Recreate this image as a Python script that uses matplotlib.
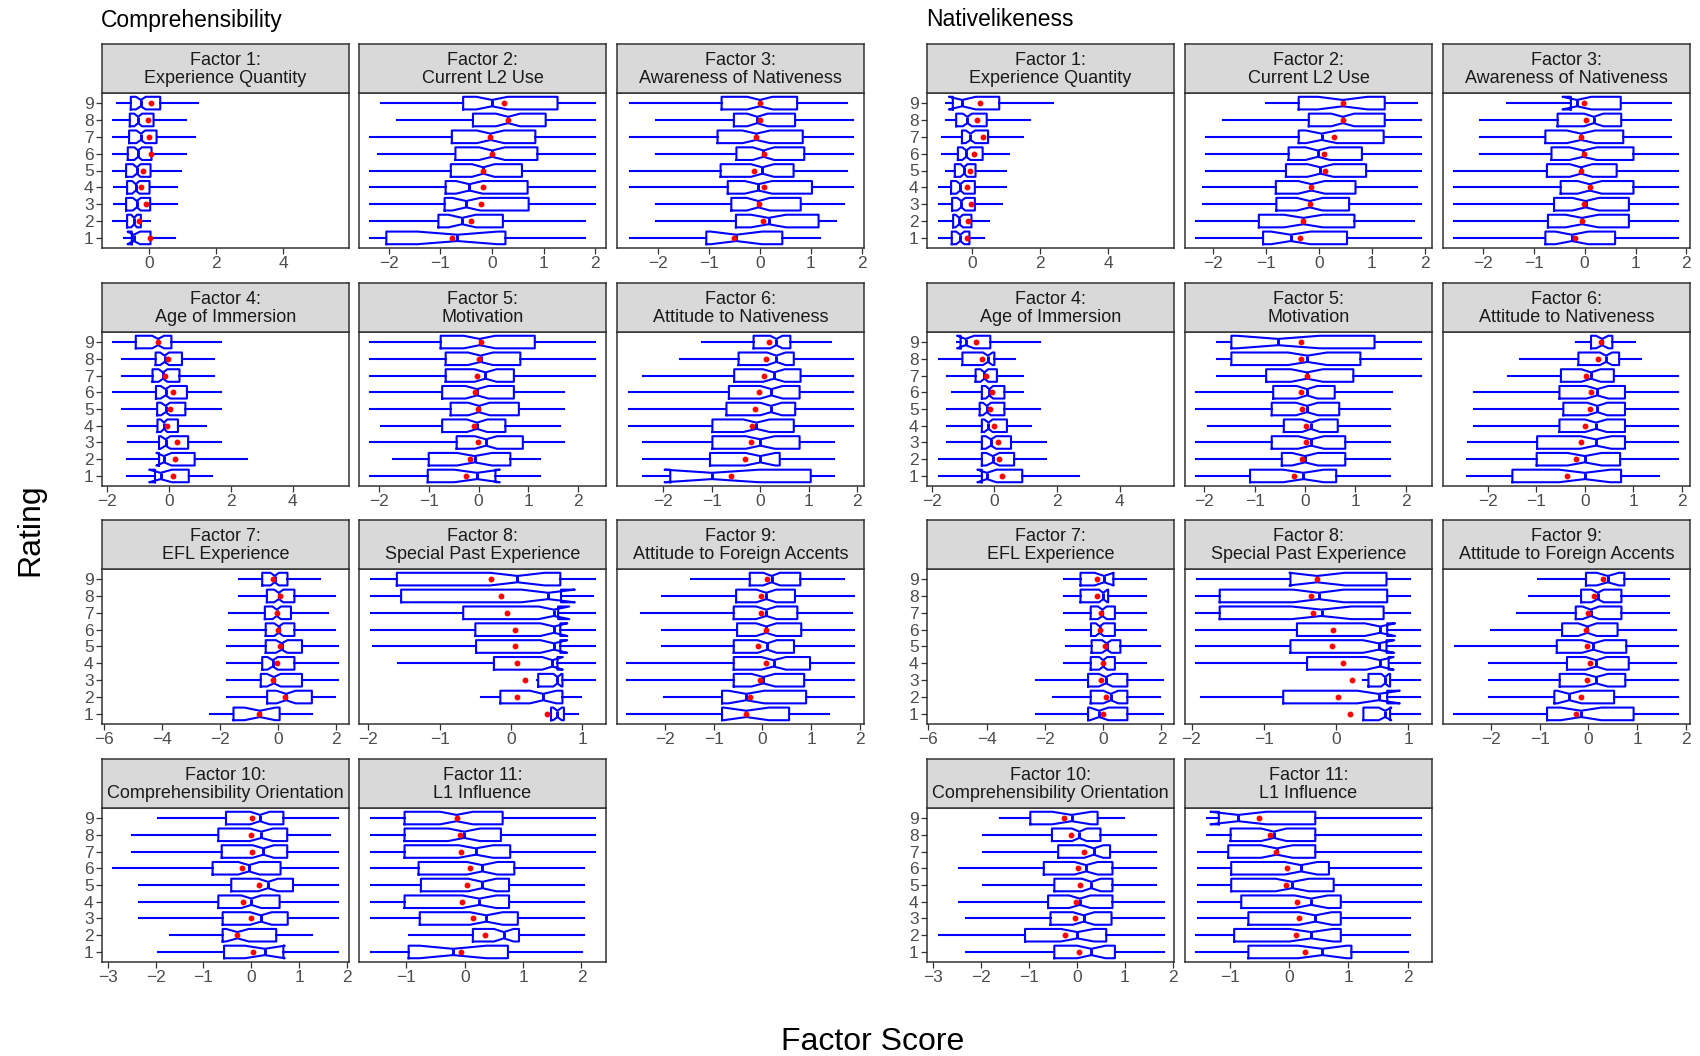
import numpy as np
import matplotlib.pyplot as plt
from matplotlib.ticker import MultipleLocator

plt.rcParams['font.family'] = ['Liberation Sans', 'DejaVu Sans']

ratings = list(range(1, 10))
factor_titles = [
    "Factor 1:\nExperience Quantity", "Factor 2:\nCurrent L2 Use",
    "Factor 3:\nAwareness of Nativeness", "Factor 4:\nAge of Immersion",
    "Factor 5:\nMotivation", "Factor 6:\nAttitude to Nativeness",
    "Factor 7:\nEFL Experience", "Factor 8:\nSpecial Past Experience",
    "Factor 9:\nAttitude to Foreign Accents",
    "Factor 10:\nComprehensibility Orientation", "Factor 11:\nL1 Influence",
]
tick_step = [2, 1, 1, 2, 1, 1, 2, 1, 1, 1, 1]

# speakers per rating (used for notch width)
comp_n = [22, 55, 90, 95, 100, 100, 95, 90, 90]
nat_n = [45, 60, 80, 90, 95, 90, 75, 110, 30]

# ---- Comprehensibility: one row per factor, values for rating 1..9 ----
comp_lo = [
    [-0.75, -1.07, -1.04, -1.04, -1.07, -1.07, -1.07, -1.07, -0.97],
    [-2.36, -2.36, -2.36, -2.36, -2.36, -2.21, -2.36, -1.84, -2.16],
    [-2.55, -2.04, -2.04, -2.55, -2.55, -2.04, -2.55, -2.04, -2.55],
    [-1.34, -1.34, -1.31, -1.31, -1.50, -1.79, -1.50, -1.50, -1.79],
    [-2.17, -1.72, -2.17, -1.95, -2.17, -2.17, -2.17, -2.17, -2.17],
    [-2.42, -2.42, -2.42, -2.71, -2.71, -2.71, -2.42, -1.65, -1.21],
    [-2.34, -1.76, -1.76, -1.76, -1.76, -1.69, -1.69, -1.35, -1.35],
    [0.54, -0.42, 0.37, -1.58, -1.94, -1.96, -1.96, -1.96, -1.96],
    [-2.78, -2.02, -2.78, -2.78, -2.07, -2.07, -2.49, -2.07, -1.47],
    [-1.95, -1.69, -2.34, -2.34, -2.34, -2.88, -2.50, -2.50, -1.95],
    [-1.60, -0.96, -1.60, -1.60, -1.60, -1.60, -1.60, -1.60, -1.60],
]
comp_q1 = [
    [-0.52, -0.66, -0.69, -0.66, -0.69, -0.64, -0.60, -0.58, -0.55],
    [-2.05, -1.04, -0.92, -0.90, -0.80, -0.71, -0.78, -0.37, -0.56],
    [-1.05, -0.47, -0.56, -0.63, -0.77, -0.46, -0.83, -0.51, -0.75],
    [-0.45, -0.32, -0.32, -0.37, -0.38, -0.42, -0.53, -0.43, -1.07],
    [-1.02, -1.00, -0.44, -0.73, -0.56, -0.73, -0.66, -0.66, -0.76],
    [-1.86, -1.04, -0.99, -0.99, -0.70, -0.65, -0.54, -0.45, -0.14],
    [-1.54, -0.38, -0.60, -0.55, -0.43, -0.43, -0.46, -0.39, -0.55],
    [0.56, -0.15, 0.38, -0.24, -0.49, -0.50, -0.67, -1.54, -1.60],
    [-0.83, -0.83, -0.59, -0.59, -0.59, -0.52, -0.59, -0.54, -0.26],
    [-0.57, -0.60, -0.60, -0.69, -0.42, -0.81, -0.62, -0.69, -0.53],
    [-0.96, 0.14, -0.77, -1.03, -0.75, -0.79, -1.03, -1.03, -1.03],
]
comp_med = [
    [-0.46, -0.45, -0.37, -0.40, -0.37, -0.33, -0.25, -0.33, -0.25],
    [-0.67, -0.58, -0.50, -0.44, -0.17, 0.00, -0.03, 0.31, 0.00],
    [-0.46, 0.17, -0.03, -0.03, 0.05, 0.07, -0.07, -0.05, 0.00],
    [-0.27, -0.16, -0.11, -0.16, -0.11, -0.11, -0.19, -0.14, -0.35],
    [-0.03, -0.08, 0.15, -0.03, 0.01, -0.03, 0.14, 0.04, 0.02],
    [-1.00, 0.00, 0.00, -0.08, 0.22, 0.23, 0.28, 0.33, 0.33],
    [-0.63, 0.27, -0.15, -0.19, 0.12, 0.02, -0.05, 0.02, -0.12],
    [0.65, 0.45, 0.65, 0.58, 0.60, 0.60, 0.60, 0.52, 0.09],
    [-0.33, -0.33, 0.02, 0.23, 0.10, 0.08, 0.08, 0.08, 0.19],
    [0.28, -0.29, 0.20, 0.00, 0.35, -0.05, 0.25, 0.21, 0.18],
    [-0.20, 0.67, 0.37, 0.25, 0.30, 0.30, 0.19, -0.01, -0.14],
]
comp_q3 = [
    [0.04, -0.25, 0.03, 0.01, 0.04, 0.07, 0.22, 0.13, 0.33],
    [0.26, 0.21, 0.71, 0.69, 0.58, 0.88, 0.84, 1.04, 1.27],
    [0.44, 1.15, 0.80, 1.02, 0.66, 0.87, 0.84, 0.69, 0.73],
    [0.64, 0.83, 0.62, 0.29, 0.53, 0.58, 0.34, 0.42, 0.08],
    [0.34, 0.64, 0.89, 0.54, 0.81, 0.71, 0.71, 0.84, 1.13],
    [1.04, 0.40, 0.81, 0.69, 0.72, 0.81, 0.83, 0.69, 0.62],
    [0.05, 1.16, 0.82, 0.56, 0.82, 0.56, 0.44, 0.56, 0.32],
    [0.74, 0.72, 0.72, 0.65, 0.69, 0.69, 0.66, 0.70, 0.69],
    [0.55, 0.90, 0.86, 0.98, 0.65, 0.80, 0.72, 0.67, 0.78],
    [0.67, 0.52, 0.76, 0.59, 0.87, 0.61, 0.75, 0.75, 0.67],
    [0.74, 0.93, 0.91, 0.76, 0.76, 0.85, 0.78, 0.62, 0.65],
]
comp_hi = [
    [0.76, 0.01, 0.82, 0.82, 0.96, 1.09, 1.36, 1.09, 1.46],
    [1.80, 1.80, 1.99, 1.99, 1.99, 1.99, 1.99, 1.99, 1.99],
    [1.17, 1.49, 1.65, 1.82, 1.70, 1.82, 1.82, 1.82, 1.70],
    [1.38, 2.53, 1.68, 1.20, 1.68, 1.68, 1.46, 1.46, 1.68],
    [1.24, 1.24, 1.71, 1.63, 1.71, 1.71, 2.33, 2.33, 2.33],
    [1.52, 1.52, 1.52, 1.91, 1.91, 1.91, 1.91, 1.91, 1.45],
    [1.15, 1.95, 2.07, 2.07, 2.07, 1.95, 1.71, 1.95, 1.45],
    [0.94, 0.98, 1.17, 1.17, 1.17, 1.17, 1.17, 1.15, 1.17],
    [1.37, 1.89, 1.89, 1.89, 1.89, 1.89, 1.84, 1.89, 1.68],
    [1.81, 1.26, 1.81, 1.81, 1.81, 1.81, 1.81, 1.64, 1.81],
    [2.01, 2.04, 2.04, 2.04, 2.04, 2.04, 2.23, 2.23, 2.23],
]
comp_mean = [
    [0.03, -0.30, -0.10, -0.25, -0.19, 0.06, 0.00, -0.04, 0.06],
    [-0.78, -0.41, -0.22, -0.17, -0.17, 0.00, -0.03, 0.31, 0.23],
    [-0.50, 0.07, -0.02, 0.09, -0.12, 0.09, -0.08, 0.00, 0.00],
    [0.13, 0.21, 0.26, -0.05, 0.02, 0.13, -0.14, -0.03, -0.35],
    [-0.26, -0.18, -0.01, -0.09, -0.01, -0.08, -0.03, 0.01, 0.04],
    [-0.60, -0.31, -0.19, -0.18, -0.11, -0.03, 0.07, 0.12, 0.17],
    [-0.65, 0.22, -0.19, -0.03, 0.07, 0.00, -0.05, 0.05, -0.19],
    [0.51, 0.08, 0.20, 0.09, 0.05, 0.05, -0.06, -0.14, -0.28],
    [-0.34, -0.26, -0.04, 0.07, -0.08, 0.07, -0.03, -0.02, 0.10],
    [0.03, -0.29, 0.00, -0.18, 0.16, -0.19, 0.02, 0.00, 0.02],
    [-0.07, 0.34, 0.15, -0.05, 0.04, 0.09, -0.06, -0.08, -0.14],
]
comp_xlim = [(-1.41, 5.97), (-2.58, 2.21), (-2.80, 2.04), (-2.16, 5.81),
             (-2.40, 2.56), (-2.96, 2.14), (-6.07, 2.44), (-2.13, 1.33),
             (-2.99, 2.09), (-3.12, 2.04), (-1.81, 2.42)]

# ---- Nativelikeness ----
nat_lo = [
    [-0.99, -0.99, -0.99, -0.99, -0.78, -0.90, -0.90, -0.78, -0.78],
    [-2.32, -2.32, -2.18, -2.18, -2.12, -2.12, -2.12, -1.80, -0.99],
    [-2.56, -2.56, -2.56, -2.56, -2.56, -2.06, -2.06, -2.06, -1.52],
    [-1.77, -1.77, -1.50, -1.50, -1.50, -1.34, -1.50, -1.77, -1.20],
    [-2.17, -2.17, -2.17, -1.93, -2.17, -2.17, -1.74, -1.74, -1.74],
    [-2.42, -2.42, -2.40, -2.29, -2.29, -2.29, -1.58, -1.33, -0.18],
    [-2.30, -1.74, -2.30, -1.34, -1.27, -1.27, -1.34, -1.34, -1.34],
    [0.38, -1.87, 0.38, -1.94, -1.94, -1.94, -1.94, -1.94, -1.92],
    [-2.76, -2.05, -2.05, -2.05, -2.75, -2.00, -1.46, -1.22, -1.03],
    [-2.31, -2.86, -2.31, -2.46, -1.95, -2.46, -1.95, -1.95, -1.61],
    [-1.58, -1.58, -1.54, -1.54, -1.54, -1.54, -1.54, -1.39, -1.39],
]
nat_q1 = [
    [-0.61, -0.57, -0.60, -0.63, -0.52, -0.43, -0.31, -0.48, -0.58],
    [-1.05, -1.13, -0.80, -0.81, -0.62, -0.57, -0.38, -0.19, -0.38],
    [-0.77, -0.72, -0.60, -0.47, -0.74, -0.65, -0.77, -0.53, -0.27],
    [-0.40, -0.40, -0.40, -0.40, -0.47, -0.40, -0.60, -1.02, -1.08],
    [-1.09, -0.46, -0.66, -0.42, -0.66, -0.63, -0.77, -1.46, -1.46],
    [-1.49, -0.99, -0.98, -0.52, -0.44, -0.52, -0.49, -0.13, 0.13],
    [-0.52, -0.43, -0.52, -0.43, -0.40, -0.42, -0.43, -0.78, -0.78],
    [0.38, -0.73, 0.45, -0.40, -0.63, -0.54, -1.61, -1.61, -0.63],
    [-0.85, -0.70, -0.59, -0.44, -0.65, -0.54, -0.26, -0.15, -0.05],
    [-0.47, -1.08, -0.55, -0.60, -0.47, -0.69, -0.39, -0.52, -0.97],
    [-0.69, -0.93, -0.69, -0.81, -0.98, -0.98, -1.03, -0.99, -1.19],
]
nat_med = [
    [-0.36, -0.39, -0.33, -0.36, -0.25, -0.18, -0.06, -0.15, -0.30],
    [-0.53, -0.29, -0.17, -0.14, 0.03, -0.02, 0.05, 0.45, 0.45],
    [-0.25, -0.05, 0.02, 0.10, -0.07, -0.03, -0.07, 0.18, -0.15],
    [-0.24, -0.05, -0.11, -0.19, -0.24, -0.16, -0.32, -0.21, -0.92],
    [-0.03, 0.00, 0.12, 0.12, 0.04, 0.04, 0.04, 0.05, -0.53],
    [0.00, 0.00, 0.23, 0.23, 0.26, 0.26, 0.13, 0.44, 0.36],
    [-0.14, 0.26, 0.09, 0.00, 0.12, -0.12, -0.03, 0.00, 0.03],
    [0.68, 0.59, 0.68, 0.61, 0.59, 0.61, -0.20, -0.24, -0.26],
    [-0.15, -0.39, 0.16, 0.16, 0.10, -0.02, 0.05, 0.19, 0.40],
    [0.30, 0.01, 0.14, 0.06, 0.30, 0.19, 0.35, 0.05, -0.11],
    [0.56, 0.37, 0.44, 0.37, 0.05, 0.20, -0.21, -0.26, -0.86],
]
nat_q3 = [
    [-0.09, -0.03, 0.07, 0.07, 0.09, 0.30, 0.46, 0.42, 0.79],
    [0.53, 0.67, 0.57, 0.69, 0.89, 0.81, 1.22, 1.24, 1.24],
    [0.60, 0.87, 0.87, 0.96, 0.63, 0.96, 0.76, 0.72, 0.71],
    [0.89, 0.63, 0.53, 0.40, 0.32, 0.32, 0.08, 0.00, -0.13],
    [0.62, 0.80, 0.80, 0.65, 0.68, 0.59, 0.96, 1.10, 1.38],
    [0.75, 0.73, 0.83, 0.83, 0.83, 0.83, 0.60, 0.71, 0.57],
    [0.83, 0.83, 0.83, 0.40, 0.59, 0.40, 0.40, 0.17, 0.35],
    [0.75, 0.71, 0.75, 0.73, 0.70, 0.71, 0.66, 0.71, 0.70],
    [0.93, 0.53, 0.76, 0.83, 0.78, 0.60, 0.68, 0.68, 0.74],
    [0.79, 0.61, 0.72, 0.74, 0.74, 0.74, 0.69, 0.49, 0.43],
    [1.05, 0.87, 0.87, 0.87, 0.75, 0.67, 0.44, 0.44, 0.44],
]
nat_hi = [
    [0.34, 0.49, 0.87, 0.99, 0.99, 1.09, 1.49, 1.69, 2.37],
    [1.93, 1.79, 1.93, 1.84, 1.93, 1.93, 1.93, 1.93, 1.84],
    [1.84, 1.84, 1.84, 1.84, 1.84, 1.84, 1.69, 1.69, 1.69],
    [2.71, 1.65, 1.65, 1.18, 1.45, 0.92, 0.92, 0.65, 1.45],
    [1.68, 1.68, 1.68, 1.68, 1.68, 1.73, 2.31, 2.31, 2.31],
    [1.53, 1.93, 1.93, 1.93, 1.93, 1.93, 1.93, 1.15, 1.04],
    [2.05, 1.95, 2.05, 1.48, 1.95, 1.48, 1.48, 1.48, 1.48],
    [1.17, 1.17, 1.17, 1.17, 1.17, 1.17, 1.03, 1.03, 1.03],
    [1.85, 1.85, 1.85, 1.80, 1.85, 1.80, 1.65, 1.65, 1.65],
    [1.81, 1.81, 1.81, 1.81, 1.64, 1.64, 1.64, 1.64, 0.98],
    [2.00, 2.04, 2.04, 2.23, 2.23, 2.23, 2.23, 2.23, 2.23],
]
nat_mean = [
    [-0.16, -0.12, -0.03, -0.15, -0.06, 0.04, 0.30, 0.12, 0.21],
    [-0.35, -0.29, -0.17, -0.14, 0.11, 0.10, 0.29, 0.45, 0.45],
    [-0.18, -0.05, -0.02, 0.10, -0.07, -0.02, -0.07, 0.03, -0.02],
    [0.24, 0.16, 0.11, 0.00, -0.13, -0.08, -0.27, -0.40, -0.60],
    [-0.21, -0.05, 0.02, 0.02, -0.05, -0.07, 0.04, -0.08, -0.08],
    [-0.36, -0.18, -0.08, 0.00, 0.10, 0.13, 0.03, 0.28, 0.33],
    [-0.02, 0.10, -0.07, 0.00, 0.07, -0.10, -0.07, -0.21, -0.21],
    [0.19, 0.03, 0.22, 0.10, -0.06, -0.04, -0.32, -0.35, -0.26],
    [-0.25, -0.15, -0.02, 0.03, -0.02, -0.04, 0.00, 0.11, 0.31],
    [0.04, -0.25, -0.03, -0.01, 0.07, 0.02, 0.14, -0.13, -0.26],
    [0.27, 0.11, 0.17, 0.13, -0.06, -0.04, -0.22, -0.33, -0.51],
]
nat_xlim = [(-1.34, 5.94), (-2.52, 2.13), (-2.78, 2.07), (-2.15, 5.73),
            (-2.38, 2.52), (-2.92, 2.17), (-6.05, 2.43), (-2.09, 1.33),
            (-2.99, 2.09), (-3.12, 2.02), (-1.76, 2.41)]

W, H = 1700, 1056
fig = plt.figure(figsize=(W / 100, H / 100), dpi=100)

# panel geometry in pixels
left_cols = [(102, 349), (359, 606), (617, 864)]
right_cols = [(927, 1174), (1185, 1432), (1443, 1690)]
rows = [(44, 93, 248), (283, 332, 486), (520, 569, 724), (759, 808, 962)]

border = '#333333'


def draw_group(cols, lo, q1, med, q3, hi, mean, n, xlims):
    for k in range(11):
        r, c = divmod(k, 3)
        x0, x1 = cols[c]
        ys, yp, yb = rows[r]
        ax = fig.add_axes([x0 / W, 1 - yb / H, (x1 - x0) / W, (yb - yp) / H])
        stats = []
        for i in range(9):
            hw = 1.58 * (q3[k][i] - q1[k][i]) / np.sqrt(n[i])
            stats.append(dict(whislo=lo[k][i], q1=q1[k][i], med=med[k][i],
                              q3=q3[k][i], whishi=hi[k][i], mean=mean[k][i],
                              cilo=med[k][i] - hw, cihi=med[k][i] + hw,
                              fliers=[]))
        ax.bxp(stats, positions=ratings, widths=0.75, orientation='horizontal',
               showfliers=False, shownotches=True, showmeans=True,
               showcaps=False,
               boxprops=dict(color='#0000FF', lw=1.5),
               whiskerprops=dict(color='#0000FF', lw=1.5),
               medianprops=dict(color='#0000FF', lw=2.1),
               meanprops=dict(marker='o', markerfacecolor='red',
                              markeredgecolor='red', markersize=3.2))
        ax.set_xlim(*xlims[k])
        ax.set_ylim(0.4, 9.6)
        ax.xaxis.set_major_locator(MultipleLocator(tick_step[k]))
        ax.set_xticklabels([f'{int(t)}'.replace('-', '\u2212') for t in ax.get_xticks()])
        ax.set_xlim(*xlims[k])
        if c == 0:
            ax.set_yticks(ratings)
            ax.set_yticklabels([str(v) for v in ratings])
        else:
            ax.tick_params(left=False, labelleft=False)
        ax.tick_params(colors=border, labelcolor='#4D4D4D', labelsize=12.5,
                       length=4, width=0.9, pad=2)
        for s in ax.spines.values():
            s.set_color(border)
            s.set_linewidth(1.1)

        sax = fig.add_axes([x0 / W, 1 - yp / H, (x1 - x0) / W, (yp - ys) / H])
        sax.set_facecolor('#D9D9D9')
        sax.set_xticks([])
        sax.set_yticks([])
        for s in sax.spines.values():
            s.set_color(border)
            s.set_linewidth(1.1)
        sax.text(0.5, 0.47, factor_titles[k], ha='center', va='center',
                 fontsize=13, color='#1A1A1A', linespacing=1.08,
                 transform=sax.transAxes)


draw_group(left_cols, comp_lo, comp_q1, comp_med, comp_q3, comp_hi,
           comp_mean, comp_n, comp_xlim)
draw_group(right_cols, nat_lo, nat_q1, nat_med, nat_q3, nat_hi,
           nat_mean, nat_n, nat_xlim)

fig.text(101 / W, 1 - 20 / H, 'Comprehensibility', fontsize=16.5,
         ha='left', va='center')
fig.text(926 / W, 1 - 20 / H, 'Nativelikeness', fontsize=16.5,
         ha='left', va='center')
fig.text(30 / W, 1 - 530 / H, 'Rating', fontsize=23, rotation=90,
         ha='center', va='center')
fig.text(873 / W, 1 - 1042 / H, 'Factor Score', fontsize=23,
         ha='center', va='center')

fig.savefig('out.png', dpi=100)
